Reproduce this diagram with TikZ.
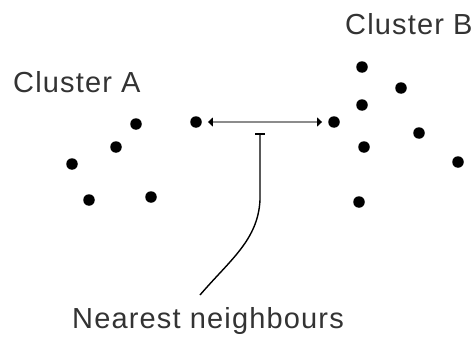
\documentclass[tikz,border=0pt]{standalone}
\usepackage{fontspec}
\setmainfont{Liberation Sans}[LetterSpace=4]
\usetikzlibrary{arrows.meta}
\begin{document}
\begin{tikzpicture}[x=1pt,y=-1pt,
  dot/.style={circle,fill=black,inner sep=0pt,minimum size=11.5pt},
  lbl/.style={font=\fontsize{29}{32}\selectfont,text=black!80,inner sep=0pt},
  gap/.style={draw=black!45,line width=2pt,
    {Triangle[length=5pt,width=9pt,color=black]}-{Triangle[length=5pt,width=9pt,color=black]}},
  pointer/.style={draw=black,line width=1.4pt}]
\useasboundingbox (0,0) rectangle (476,337);
% Cluster A
\node[dot] (a1) at (136,124) {};
\node[dot] (a2) at (116,147) {};
\node[dot] (a3) at (72,164) {};
\node[dot] (a4) at (89,200) {};
\node[dot] (a5) at (151,197) {};
\node[dot] (a6) at (196,122) {};
% Cluster B
\node[dot] (b1) at (334,122) {};
\node[dot] (b2) at (362,67) {};
\node[dot] (b3) at (401,88) {};
\node[dot] (b4) at (362,105) {};
\node[dot] (b5) at (419,133) {};
\node[dot] (b6) at (364,147) {};
\node[dot] (b7) at (458,162) {};
\node[dot] (b8) at (359,202) {};
% labels
\node[lbl,anchor=base west] (la) at (13,92) {Cluster A};
\node[lbl,anchor=base west] (lb) at (345,35) {Cluster B};
\node[lbl,anchor=base west] (ln) at (72,328) {Nearest neighbours};
% arrow between nearest neighbours
\draw[gap] ([xshift=6pt]a6.east) -- ([xshift=-6pt]b1.west);
% pointer
\coordinate (pt) at (260,134);
\coordinate (bend) at (260,200);
\coordinate (pe) at (200,295);
\draw[draw=black,line width=2.2pt] ([xshift=-5pt]pt) -- ([xshift=5pt]pt);
\draw[pointer] (pt) -- (bend) .. controls (258,240) and (230,260) .. (pe);
\end{tikzpicture}
\end{document}
